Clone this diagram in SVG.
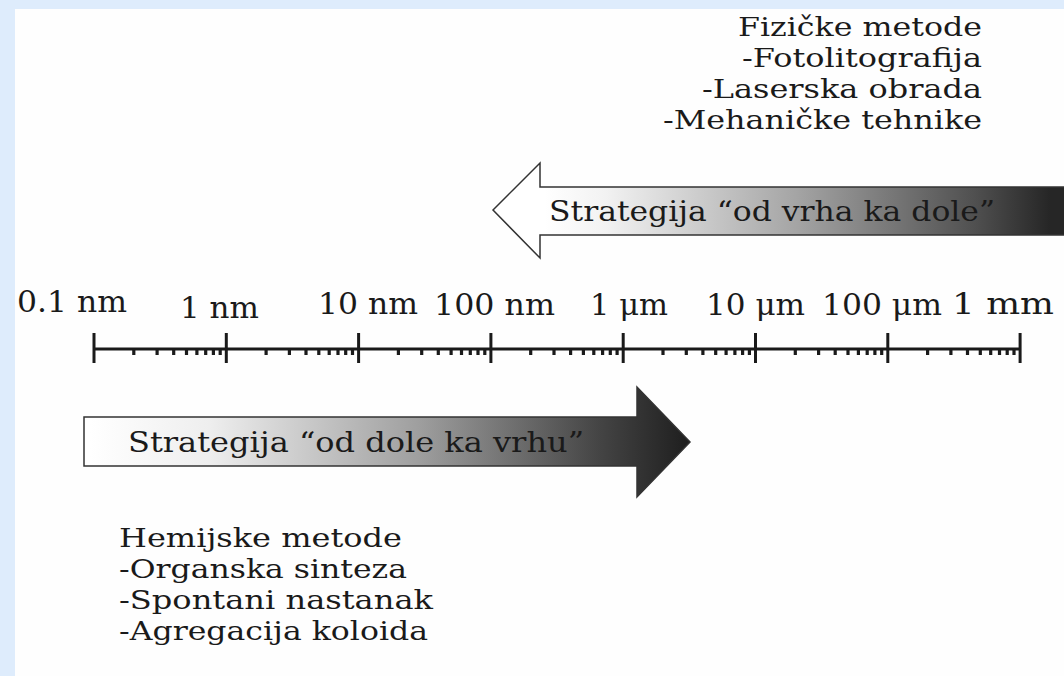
<svg xmlns="http://www.w3.org/2000/svg" width="1064" height="676" viewBox="0 0 1064 676">
<defs>
<style>
.t{font-family:"DejaVu Serif","Liberation Serif",serif;font-size:26.5px;fill:#1a1a1a;}
.a{font-family:"DejaVu Serif","Liberation Serif",serif;font-size:28px;fill:#1a1a1a;}
.ax{font-family:"DejaVu Serif","Liberation Serif",serif;font-size:30px;fill:#1a1a1a;}
.arr{stroke:#333;stroke-width:1.5;stroke-linejoin:miter;}
.tick{stroke:#1a1a1a;stroke-width:3;}
.minor{stroke:#1a1a1a;stroke-width:3.2;}
</style>
<linearGradient id="gTop" gradientUnits="userSpaceOnUse" x1="545" y1="0" x2="1050" y2="0">
<stop offset="0" stop-color="#ffffff"/>
<stop offset="0.12" stop-color="#f2f2f2"/>
<stop offset="0.5" stop-color="#a4a4a4"/>
<stop offset="0.85" stop-color="#505050"/>
<stop offset="1" stop-color="#262626"/>
</linearGradient>
<linearGradient id="gBot" gradientUnits="userSpaceOnUse" x1="90" y1="0" x2="690" y2="0">
<stop offset="0" stop-color="#ffffff"/>
<stop offset="0.2" stop-color="#eeeeee"/>
<stop offset="0.55" stop-color="#9e9e9e"/>
<stop offset="0.85" stop-color="#444444"/>
<stop offset="1" stop-color="#1e1e1e"/>
</linearGradient>
</defs>
<rect x="0" y="0" width="1064" height="676" fill="#deecfc"/>
<rect x="15" y="9" width="1049" height="667" fill="#fefefe"/>

<g id="fizicke-metode">
<text class="t" x="738" y="36" textLength="244" lengthAdjust="spacingAndGlyphs">Fizičke metode</text>
<text class="t" x="742" y="67" textLength="240" lengthAdjust="spacingAndGlyphs">-Fotolitografija</text>
<text class="t" x="702" y="98" textLength="280" lengthAdjust="spacingAndGlyphs">-Laserska obrada</text>
<text class="t" x="663" y="129" textLength="319" lengthAdjust="spacingAndGlyphs">-Mehaničke tehnike</text>
</g>

<g id="scale">
<line class="tick" x1="94" y1="349" x2="1020" y2="349" stroke-width="2.5"/>
<g id="major-ticks">
<line class="tick" x1="94" y1="333" x2="94" y2="363"/>
<line class="tick" x1="226.3" y1="333" x2="226.3" y2="363"/>
<line class="tick" x1="358.6" y1="333" x2="358.6" y2="363"/>
<line class="tick" x1="490.9" y1="333" x2="490.9" y2="363"/>
<line class="tick" x1="623.2" y1="333" x2="623.2" y2="363"/>
<line class="tick" x1="755.5" y1="333" x2="755.5" y2="363"/>
<line class="tick" x1="887.8" y1="333" x2="887.8" y2="363"/>
<line class="tick" x1="1020.1" y1="333" x2="1020.1" y2="363"/>
</g>
<g id="minor-ticks">
<path id="dec" class="minor" fill="none" d="M133.8,349V355M157.1,349V355M173.7,349V355M186.5,349V355M196.9,349V355M205.7,349V355M213.4,349V355M220.2,349V355"/>
<use href="#dec" x="132.3"/>
<use href="#dec" x="264.6"/>
<use href="#dec" x="396.9"/>
<use href="#dec" x="529.2"/>
<use href="#dec" x="661.5"/>
<use href="#dec" x="793.8"/>
</g>
<g id="scale-labels">
<text class="ax" x="17" y="312" textLength="110" lengthAdjust="spacingAndGlyphs">0.1 nm</text>
<text class="ax" x="180" y="318" textLength="79" lengthAdjust="spacingAndGlyphs">1 nm</text>
<text class="ax" x="318" y="314" textLength="100" lengthAdjust="spacingAndGlyphs">10 nm</text>
<text class="ax" x="434" y="315" textLength="121" lengthAdjust="spacingAndGlyphs">100 nm</text>
<text class="ax" x="590" y="315" textLength="78" lengthAdjust="spacingAndGlyphs">1 μm</text>
<text class="ax" x="706" y="315" textLength="99" lengthAdjust="spacingAndGlyphs">10 μm</text>
<text class="ax" x="822" y="315" textLength="120" lengthAdjust="spacingAndGlyphs">100 μm</text>
<text class="ax" x="952" y="314" textLength="102" lengthAdjust="spacingAndGlyphs">1 mm</text>
</g>
</g>

<g id="connectors">
<g id="arrow-top-down">
<path class="arr" fill="url(#gTop)" d="M493,210 L540,163 L540,187 L1068,187 L1068,235 L540,235 L540,258 Z"/>
<text class="a" x="549" y="221" textLength="446" lengthAdjust="spacingAndGlyphs">Strategija “od vrha ka dole”</text>
</g>
<g id="arrow-bottom-up">
<path class="arr" fill="url(#gBot)" d="M84,417 L637,417 L637,387 L690,442 L637,497 L637,466 L84,466 Z"/>
<text class="a" x="128" y="452" textLength="456" lengthAdjust="spacingAndGlyphs">Strategija “od dole ka vrhu”</text>
</g>
</g>

<g id="hemijske-metode">
<text class="t" x="119" y="547" textLength="283" lengthAdjust="spacingAndGlyphs">Hemijske metode</text>
<text class="t" x="119" y="578" textLength="288" lengthAdjust="spacingAndGlyphs">-Organska sinteza</text>
<text class="t" x="119" y="609" textLength="314" lengthAdjust="spacingAndGlyphs">-Spontani nastanak</text>
<text class="t" x="119" y="640" textLength="309" lengthAdjust="spacingAndGlyphs">-Agregacija koloida</text>
</g>
</svg>
